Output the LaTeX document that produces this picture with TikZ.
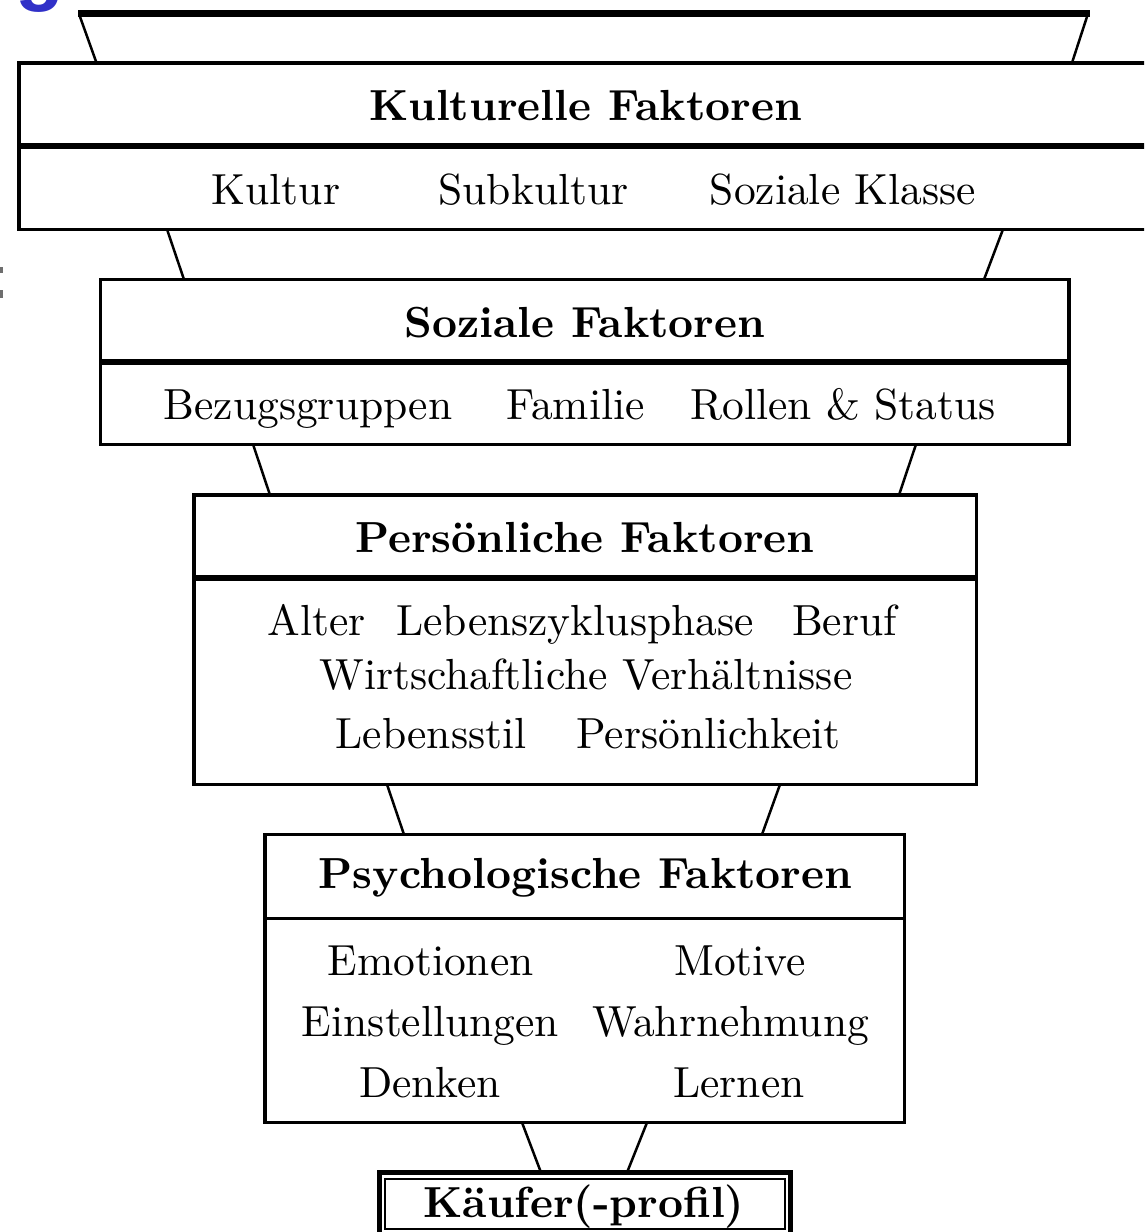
\documentclass[tikz,border=0pt]{standalone}
\usepackage{fontspec}
\setmainfont{lmroman10-regular}[Extension=.otf, BoldFont=lmroman10-bold, ItalicFont=lmroman10-italic, BoldItalicFont=lmroman10-bolditalic]
\newfontfamily\headfont{Liberation Sans}
\definecolor{slideblue}{RGB}{48,48,200}
\definecolor{markgray}{RGB}{110,110,110}
\begin{document}
\begin{tikzpicture}[x=1pt,y=-1pt,
  frame/.style={draw=black,line width=3.5pt,rectangle,inner sep=0pt,outer sep=0pt},
  divthick/.style={line width=6pt},
  divthin/.style={line width=3.5pt},
  conn/.style={line width=2.5pt},
  txt/.style={anchor=base,inner sep=0pt,font=\fontsize{43.5}{52}\selectfont},
  head/.style={txt,font=\fontsize{43.5}{52}\selectfont\bfseries}]
\useasboundingbox (0,0) rectangle (1144,1232);
\clip (0,0) rectangle (1144,1232);
% slide fragments
\node[anchor=base west,inner sep=0pt,text=slideblue,font=\fontsize{80}{90}\selectfont\headfont\bfseries] (frag) at (15,-4.5) {g};
\fill[markgray] (0,267) rectangle (2.5,273);
\fill[markgray] (0,290) rectangle (2.5,298);
% top bar
\coordinate (barL) at (78,13.3);
\coordinate (barR) at (1090,13.3);
\draw[line width=6.8pt] (barL) -- (barR);
% boxes
\node[frame,anchor=north west,minimum width=1150pt,minimum height=166.5pt] (b1) at (19,62.8) {};
\node[frame,anchor=north west,minimum width=968.5pt,minimum height=164.8pt] (b2) at (100.5,279.5) {};
\node[frame,anchor=north west,minimum width=782.5pt,minimum height=289.5pt] (b3) at (194,495) {};
\node[frame,anchor=north west,minimum width=639.5pt,minimum height=288pt] (b4) at (265,834.5) {};
\node[draw=black,line width=4.5pt,inner sep=0pt,outer sep=0pt,anchor=north west,minimum width=411pt,minimum height=80pt] (b5) at (379.5,1172.5) {};
\node[draw=black,line width=2pt,inner sep=0pt,outer sep=0pt,anchor=north west,minimum width=399.5pt,minimum height=50pt] (b5i) at (385,1179) {};
% dividers
\draw[divthick] (b1.west |- 0,146) -- (b1.east |- 0,146);
\draw[divthick] (b2.west |- 0,362) -- (b2.east |- 0,362);
\draw[divthick] (b3.west |- 0,577.5) -- (b3.east |- 0,577.5);
\draw[divthin] (b4.west |- 0,918.5) -- (b4.east |- 0,918.5);
% connectors
\draw[conn] ([xshift=2pt,yshift=-3.4pt]barL) -- ([xshift=77.5pt]b1.north west);
\draw[conn] ([xshift=-3pt,yshift=-3.4pt]barR) -- ([xshift=1053pt]b1.north west);
\draw[conn] ([xshift=148pt]b1.south west) -- ([xshift=83.5pt]b2.north west);
\draw[conn] ([xshift=984pt]b1.south west) -- ([xshift=-85pt]b2.north east);
\draw[conn] ([xshift=152.5pt]b2.south west) -- ([xshift=76pt]b3.north west);
\draw[conn] ([xshift=-153pt]b2.south east) -- ([xshift=-77.5pt]b3.north east);
\draw[conn] ([xshift=193pt]b3.south west) -- ([xshift=139pt]b4.north west);
\draw[conn] ([xshift=-196.5pt]b3.south east) -- ([xshift=-142.5pt]b4.north east);
\draw[conn] ([xshift=257pt]b4.south west) -- ([xshift=161.5pt]b5.north west);
\draw[conn] ([xshift=-257.5pt]b4.south east) -- ([xshift=-163.5pt]b5.north east);
% texts box 1
\node[head] (h1) at (585.5,120) {Kulturelle Faktoren};
\node[txt] (k1) at (276,204) {Kultur};
\node[txt] (k2) at (533.5,204) {Subkultur};
\node[txt] (k3) at (843,204) {Soziale Klasse};
% box 2
\node[head] (h2) at (585,337) {Soziale Faktoren};
\node[txt] (s1) at (308,419) {Bezugsgruppen};
\node[txt] (s2) at (575.5,419) {Familie};
\node[txt] (s3) at (843,419) {Rollen \& Status};
% box 3
\node[head] (h3) at (585,552) {Persönliche Faktoren};
\node[txt] (p1) at (316.5,635) {Alter};
\node[txt] (p2) at (575,635) {Lebenszyklusphase};
\node[txt] (p3) at (844.5,635) {Beruf};
\node[txt] (p4) at (586,689) {Wirtschaftliche Verhältnisse};
\node[txt] (p5) at (431,748) {Lebensstil};
\node[txt] (p6) at (708.5,748) {Persönlichkeit};
% box 4
\node[head] (h4) at (585.5,888) {Psychologische Faktoren};
\node[txt] (q1) at (430.5,975) {Emotionen};
\node[txt] (q2) at (740,975) {Motive};
\node[txt] (q3) at (430.5,1036) {Einstellungen};
\node[txt] (q4) at (730.5,1036) {Wahrnehmung};
\node[txt] (q5) at (430,1097) {Denken};
\node[txt] (q6) at (739,1097) {Lernen};
% box 5
\node[head] (h5) at (584,1217) {Käufer(-profil)};
\end{tikzpicture}
\end{document}
